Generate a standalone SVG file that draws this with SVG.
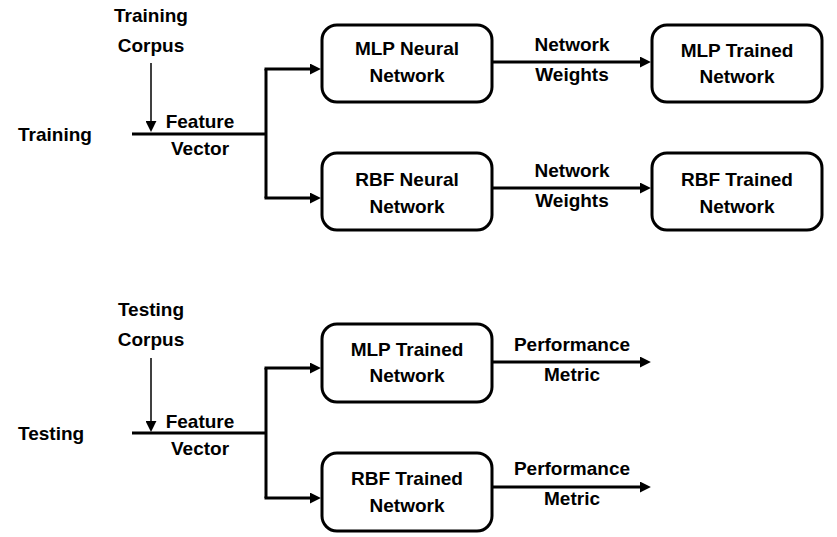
<svg xmlns="http://www.w3.org/2000/svg" width="837" height="537" viewBox="0 0 837 537">
<style>
text{font-family:"Liberation Sans",Arial,sans-serif;font-weight:bold;font-size:19px;fill:#000;text-anchor:middle}
.box{fill:#fff;stroke:#000;stroke-width:3}
.thick{stroke:#000;stroke-width:3;fill:none}
.thin{stroke:#000;stroke-width:1.5;fill:none}
.lab{text-anchor:start}
</style>
<defs>
<marker id="ah" viewBox="0 0 10 10" markerUnits="userSpaceOnUse" markerWidth="11" markerHeight="11" refX="1" refY="5" orient="auto">
<path d="M0,0 L10,5 L0,10 z" fill="#000"/>
</marker>
<marker id="ahs" viewBox="0 0 10 10" markerUnits="userSpaceOnUse" markerWidth="11" markerHeight="11" refX="1" refY="5" orient="auto">
<path d="M0,0 L10,5 L0,10 z" fill="#000"/>
</marker>
</defs>
<rect width="837" height="537" fill="#fff"/>
<g id="connectors">
<line class="thin" x1="151" y1="63" x2="151" y2="122" marker-end="url(#ahs)"/>
<path class="thick" d="M132,134 H266 M266,69 V198"/>
<line class="thick" x1="264.5" y1="69" x2="311" y2="69" marker-end="url(#ah)"/>
<line class="thick" x1="264.5" y1="198" x2="311" y2="198" marker-end="url(#ah)"/>
<line class="thick" x1="492" y1="62" x2="641" y2="62" marker-end="url(#ah)"/>
<line class="thick" x1="492" y1="188" x2="641" y2="188" marker-end="url(#ah)"/>
<line class="thin" x1="151" y1="358" x2="151" y2="422" marker-end="url(#ahs)"/>
<path class="thick" d="M132,433 H266 M266,368 V498"/>
<line class="thick" x1="264.5" y1="368" x2="311" y2="368" marker-end="url(#ah)"/>
<line class="thick" x1="264.5" y1="498" x2="311" y2="498" marker-end="url(#ah)"/>
<line class="thick" x1="492" y1="362" x2="641" y2="362" marker-end="url(#ah)"/>
<line class="thick" x1="492" y1="487" x2="641" y2="487" marker-end="url(#ah)"/>
</g>
<g id="labels">
<text class="lab" x="18" y="141">Training</text>
<text x="151" y="22">Training</text>
<text x="151" y="52">Corpus</text>
<text x="200" y="128">Feature</text>
<text x="200" y="155">Vector</text>
<text x="572" y="51">Network</text>
<text x="572" y="81">Weights</text>
<text x="572" y="177">Network</text>
<text x="572" y="207">Weights</text>
<text class="lab" x="18" y="440">Testing</text>
<text x="151" y="316">Testing</text>
<text x="151" y="346">Corpus</text>
<text x="200" y="428">Feature</text>
<text x="200" y="455">Vector</text>
<text x="572" y="351">Performance</text>
<text x="572" y="381">Metric</text>
<text x="572" y="475">Performance</text>
<text x="572" y="505">Metric</text>
</g>
<g id="mlp-neural">
<rect class="box" x="322" y="25" width="170" height="77" rx="15"/>
<text x="407" y="55">MLP Neural</text>
<text x="407" y="82">Network</text>
</g>
<g id="rbf-neural">
<rect class="box" x="322" y="153" width="170" height="77" rx="15"/>
<text x="407" y="186">RBF Neural</text>
<text x="407" y="213">Network</text>
</g>
<g id="mlp-trained-1">
<rect class="box" x="652" y="25" width="170" height="77" rx="15"/>
<text x="737" y="57">MLP Trained</text>
<text x="737" y="83">Network</text>
</g>
<g id="rbf-trained-1">
<rect class="box" x="652" y="153" width="170" height="77" rx="15"/>
<text x="737" y="186">RBF Trained</text>
<text x="737" y="213">Network</text>
</g>
<g id="mlp-trained-2">
<rect class="box" x="322" y="324" width="170" height="78" rx="15"/>
<text x="407" y="356">MLP Trained</text>
<text x="407" y="382">Network</text>
</g>
<g id="rbf-trained-2">
<rect class="box" x="322" y="453" width="170" height="78" rx="15"/>
<text x="407" y="485">RBF Trained</text>
<text x="407" y="512">Network</text>
</g>
</svg>
